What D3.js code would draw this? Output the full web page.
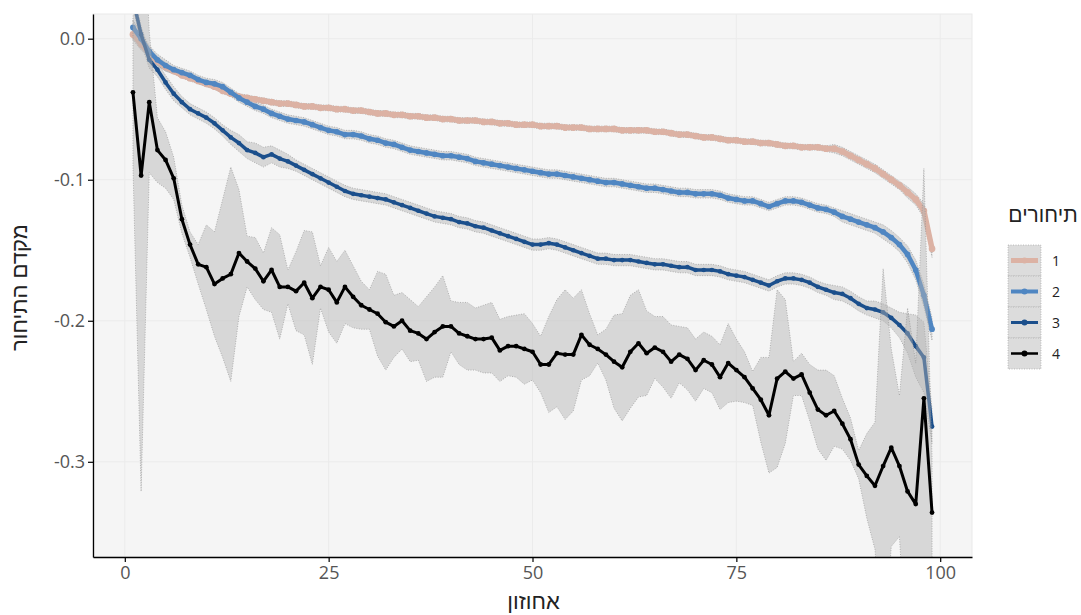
<!DOCTYPE html>
<html>
<head>
<meta charset="utf-8">
<script src="https://cdn.jsdelivr.net/npm/d3@7"></script>
<style>
  body { margin: 0; background: #fff; }
  svg { display: block; }
</style>
</head>
<body>
<div id="chart"></div>
<script>
// percentiles 1..99
var pct = d3.range(1, 100);

var groups = ["1", "2", "3", "4"];
var colors = ["#dcb2a4", "#4f86c2", "#1b4f8c", "#000000"];

var s1 = [0.003,-0.004,-0.010,-0.016,-0.020,-0.023,-0.026,-0.028,-0.030,-0.032,
  -0.034,-0.037,-0.039,-0.041,-0.042,-0.043,-0.044,-0.045,-0.046,-0.046,
  -0.047,-0.048,-0.048,-0.049,-0.049,-0.050,-0.050,-0.051,-0.051,-0.052,
  -0.053,-0.053,-0.054,-0.054,-0.055,-0.055,-0.056,-0.056,-0.057,-0.057,
  -0.058,-0.058,-0.058,-0.059,-0.059,-0.060,-0.060,-0.061,-0.061,-0.061,
  -0.062,-0.062,-0.062,-0.063,-0.063,-0.063,-0.064,-0.064,-0.064,-0.064,
  -0.065,-0.065,-0.065,-0.065,-0.066,-0.066,-0.067,-0.068,-0.068,-0.069,
  -0.070,-0.070,-0.071,-0.072,-0.072,-0.073,-0.073,-0.074,-0.074,-0.075,
  -0.076,-0.076,-0.077,-0.077,-0.077,-0.078,-0.078,-0.080,-0.083,-0.086,
  -0.089,-0.092,-0.096,-0.100,-0.104,-0.109,-0.114,-0.122,-0.149];

var s2 = [0.008,0.000,-0.009,-0.015,-0.019,-0.022,-0.024,-0.026,-0.029,-0.031,
  -0.032,-0.034,-0.038,-0.042,-0.045,-0.048,-0.050,-0.053,-0.055,-0.057,
  -0.058,-0.059,-0.061,-0.063,-0.065,-0.066,-0.068,-0.068,-0.069,-0.071,
  -0.072,-0.074,-0.075,-0.077,-0.079,-0.080,-0.081,-0.082,-0.083,-0.083,
  -0.084,-0.085,-0.087,-0.088,-0.089,-0.090,-0.091,-0.092,-0.093,-0.094,
  -0.095,-0.096,-0.096,-0.097,-0.098,-0.099,-0.100,-0.101,-0.102,-0.102,
  -0.103,-0.104,-0.105,-0.106,-0.106,-0.107,-0.108,-0.109,-0.109,-0.110,
  -0.110,-0.110,-0.111,-0.113,-0.114,-0.115,-0.115,-0.117,-0.119,-0.117,
  -0.115,-0.115,-0.116,-0.118,-0.120,-0.121,-0.123,-0.126,-0.128,-0.130,
  -0.132,-0.134,-0.137,-0.141,-0.146,-0.153,-0.164,-0.182,-0.206];

var s3 = [0.028,0.003,-0.015,-0.022,-0.031,-0.039,-0.045,-0.050,-0.053,-0.056,
  -0.060,-0.065,-0.070,-0.074,-0.079,-0.081,-0.084,-0.082,-0.085,-0.087,
  -0.090,-0.093,-0.096,-0.099,-0.102,-0.105,-0.108,-0.110,-0.111,-0.112,
  -0.113,-0.114,-0.116,-0.118,-0.120,-0.122,-0.124,-0.126,-0.127,-0.128,
  -0.130,-0.131,-0.133,-0.134,-0.136,-0.138,-0.140,-0.142,-0.144,-0.146,
  -0.146,-0.145,-0.146,-0.148,-0.150,-0.152,-0.154,-0.156,-0.156,-0.157,
  -0.157,-0.157,-0.158,-0.159,-0.160,-0.160,-0.161,-0.162,-0.162,-0.164,
  -0.164,-0.164,-0.165,-0.167,-0.168,-0.169,-0.171,-0.173,-0.175,-0.172,
  -0.170,-0.170,-0.171,-0.173,-0.176,-0.178,-0.180,-0.181,-0.184,-0.188,
  -0.191,-0.192,-0.194,-0.198,-0.203,-0.209,-0.218,-0.226,-0.275];

var s4 = [-0.038,-0.097,-0.045,-0.079,-0.086,-0.099,-0.128,-0.146,-0.160,-0.162,
  -0.174,-0.170,-0.167,-0.152,-0.158,-0.163,-0.172,-0.164,-0.176,-0.176,
  -0.179,-0.173,-0.184,-0.176,-0.178,-0.187,-0.176,-0.183,-0.189,-0.192,
  -0.195,-0.201,-0.204,-0.200,-0.207,-0.209,-0.213,-0.208,-0.204,-0.204,
  -0.209,-0.211,-0.213,-0.213,-0.212,-0.221,-0.218,-0.218,-0.220,-0.222,
  -0.231,-0.231,-0.223,-0.224,-0.224,-0.210,-0.217,-0.220,-0.224,-0.229,
  -0.233,-0.222,-0.216,-0.223,-0.219,-0.222,-0.229,-0.224,-0.227,-0.235,
  -0.228,-0.231,-0.240,-0.230,-0.235,-0.240,-0.248,-0.256,-0.267,-0.241,
  -0.236,-0.241,-0.238,-0.251,-0.263,-0.267,-0.264,-0.273,-0.284,-0.302,
  -0.310,-0.317,-0.303,-0.290,-0.303,-0.321,-0.330,-0.255,-0.336];

// half width of the confidence band, per percentile
var hw1 = [0.004,0.004,0.003,0.003,0.003,0.002,0.002,0.002,0.002,0.002,
  0.002,0.002,0.002,0.002,0.002,0.002,0.002,0.002,0.002,0.002,
  0.002,0.002,0.002,0.002,0.002,0.002,0.002,0.002,0.002,0.002,
  0.002,0.002,0.002,0.002,0.002,0.002,0.002,0.002,0.002,0.002,
  0.002,0.002,0.002,0.002,0.002,0.002,0.002,0.002,0.002,0.002,
  0.002,0.002,0.002,0.002,0.002,0.002,0.002,0.002,0.002,0.002,
  0.002,0.002,0.002,0.002,0.002,0.002,0.002,0.002,0.002,0.002,
  0.002,0.002,0.002,0.002,0.002,0.002,0.002,0.002,0.002,0.002,
  0.002,0.002,0.002,0.002,0.002,0.002,0.003,0.003,0.003,0.003,
  0.003,0.003,0.003,0.003,0.003,0.004,0.004,0.005,0.006];

var hw2 = [0.005,0.005,0.004,0.004,0.004,0.003,0.003,0.003,0.003,0.003,
  0.003,0.003,0.003,0.003,0.003,0.003,0.003,0.003,0.003,0.003,
  0.003,0.003,0.003,0.003,0.003,0.003,0.003,0.003,0.003,0.003,
  0.003,0.003,0.003,0.003,0.003,0.003,0.003,0.003,0.003,0.003,
  0.003,0.003,0.003,0.003,0.003,0.003,0.003,0.003,0.003,0.003,
  0.003,0.003,0.003,0.003,0.003,0.003,0.003,0.003,0.003,0.003,
  0.003,0.003,0.003,0.003,0.003,0.003,0.003,0.003,0.003,0.003,
  0.003,0.003,0.003,0.003,0.003,0.003,0.003,0.003,0.003,0.003,
  0.003,0.003,0.003,0.003,0.003,0.003,0.003,0.004,0.004,0.004,
  0.004,0.004,0.005,0.005,0.005,0.006,0.007,0.008,0.008];

var hw3 = [0.006,0.006,0.006,0.005,0.005,0.005,0.004,0.004,0.004,0.004,
  0.004,0.004,0.005,0.006,0.006,0.007,0.007,0.006,0.006,0.005,
  0.004,0.004,0.004,0.004,0.004,0.004,0.004,0.004,0.004,0.004,
  0.004,0.004,0.004,0.004,0.004,0.004,0.004,0.004,0.004,0.004,
  0.004,0.004,0.004,0.004,0.004,0.004,0.004,0.004,0.004,0.004,
  0.004,0.004,0.004,0.004,0.004,0.004,0.004,0.004,0.004,0.004,
  0.004,0.004,0.004,0.004,0.004,0.004,0.004,0.004,0.004,0.004,
  0.004,0.004,0.004,0.004,0.004,0.004,0.004,0.004,0.004,0.004,
  0.004,0.004,0.004,0.004,0.004,0.004,0.005,0.005,0.005,0.005,
  0.005,0.006,0.006,0.007,0.009,0.014,0.022,0.025,0.012];

var hw4 = [0.052,0.224,0.050,0.023,0.020,0.015,0.010,0.009,0.014,0.030,
  0.037,0.056,0.076,0.045,0.018,0.022,0.020,0.030,0.037,0.012,
  0.028,0.037,0.047,0.015,0.030,0.029,0.026,0.022,0.017,0.014,
  0.030,0.034,0.022,0.020,0.022,0.019,0.030,0.032,0.036,0.018,
  0.022,0.024,0.022,0.024,0.025,0.022,0.021,0.022,0.025,0.020,
  0.020,0.034,0.038,0.046,0.040,0.032,0.022,0.010,0.018,0.033,
  0.038,0.040,0.038,0.030,0.022,0.025,0.026,0.020,0.022,0.022,
  0.020,0.020,0.023,0.028,0.022,0.018,0.012,0.030,0.041,0.063,
  0.051,0.012,0.015,0.020,0.028,0.032,0.025,0.018,0.015,0.010,
  0.030,0.045,0.140,0.070,0.050,0.130,0.100,0.163,0.040];

var xTicks = [0, 25, 50, 75, 100];
var yTicks = [0, -0.1, -0.2, -0.3];
var yTickLabels = ["0.0", "-0.1", "-0.2", "-0.3"];

var xTitle = "אחוזון";
var yTitle = "מקדם התיחור";
var legendTitle = "תיחורים";

var values = [s1, s2, s3, s4],
    halfs = [hw1, hw2, hw3, hw4],
    widths = [5.5, 4.5, 3.5, 3];

// panel edges (window.top is read only, so no "top" here)
var w = 1081, h = 615,
    pLeft = 93, pRight = 972, pTop = 14, pBottom = 557;

var x = d3.scaleLinear().domain([-3.9, 103.9]).range([pLeft, pRight]),
    y = d3.scaleLinear().domain([-0.3675, 0.0175]).range([pBottom, pTop]);

var svg = d3.select("#chart").append("svg")
    .attr("width", w)
    .attr("height", h);

svg.append("defs").append("clipPath").attr("id", "clip")
  .append("rect")
    .attr("x", pLeft).attr("y", pTop)
    .attr("width", pRight - pLeft).attr("height", pBottom - pTop);

// panel
svg.append("rect")
    .attr("x", pLeft).attr("y", pTop)
    .attr("width", pRight - pLeft).attr("height", pBottom - pTop)
    .attr("fill", "#f5f5f5")
    .attr("stroke", "#e9e9e9")
    .attr("stroke-width", 1);

// grid
svg.append("g").selectAll("line")
    .data(yTicks).enter().append("line")
    .attr("x1", pLeft).attr("x2", pRight)
    .attr("y1", function(d) { return y(d); })
    .attr("y2", function(d) { return y(d); })
    .attr("stroke", "#ebebeb").attr("stroke-width", 1);

svg.append("g").selectAll("line")
    .data(xTicks).enter().append("line")
    .attr("y1", pTop).attr("y2", pBottom)
    .attr("x1", function(d) { return x(d); })
    .attr("x2", function(d) { return x(d); })
    .attr("stroke", "#ebebeb").attr("stroke-width", 1);

var plot = svg.append("g").attr("clip-path", "url(#clip)");

function rows(k) {
    return pct.map(function(p, i) {
        return { p: p, v: values[k][i], lo: values[k][i] - halfs[k][i], hi: values[k][i] + halfs[k][i] };
    });
}

var area = d3.area()
    .x(function(d) { return x(d.p); })
    .y0(function(d) { return y(d.lo); })
    .y1(function(d) { return y(d.hi); });

var line = d3.line()
    .x(function(d) { return x(d.p); })
    .y(function(d) { return y(d.v); });

function drawBand(k) {
    plot.append("path")
        .datum(rows(k))
        .attr("d", area)
        .attr("fill", "#b3b3b3")
        .attr("fill-opacity", 0.45)
        .attr("stroke", "#8c8c8c")
        .attr("stroke-width", 0.6)
        .attr("stroke-dasharray", "1,1.5");
}

function drawLine(k) {
    var data = rows(k);
    plot.append("path")
        .datum(data)
        .attr("d", line)
        .attr("fill", "none")
        .attr("stroke", colors[k])
        .attr("stroke-width", widths[k])
        .attr("stroke-linejoin", "round");

    plot.append("g").selectAll("circle")
        .data(data).enter().append("circle")
        .attr("cx", function(d) { return x(d.p); })
        .attr("cy", function(d) { return y(d.v); })
        .attr("r", k === 3 ? 2.4 : widths[k] / 2 + 0.6)
        .attr("fill", colors[k]);
}

// bands of the three upper groups under their lines, the last on top
drawBand(0); drawBand(1); drawBand(2);
drawLine(0); drawLine(1); drawLine(2);
drawBand(3);
drawLine(3);

// axes
var yAxis = d3.axisLeft(y)
    .tickValues(yTicks)
    .tickSize(5).tickSizeOuter(0).tickPadding(3)
    .tickFormat(function(d, i) { return yTickLabels[i]; });

var xAxis = d3.axisBottom(x)
    .tickValues(xTicks)
    .tickSize(5).tickSizeOuter(0).tickPadding(4);

var gy = svg.append("g").attr("transform", "translate(" + pLeft + ",0)").call(yAxis);
var gx = svg.append("g").attr("transform", "translate(0," + pBottom + ")").call(xAxis);

[gx, gy].forEach(function(g) {
    g.select(".domain").attr("stroke", "#000").attr("stroke-width", 1.3);
    g.selectAll(".tick line").attr("stroke", "#000").attr("stroke-width", 1.2);
    g.selectAll(".tick text")
        .attr("fill", "#555")
        .style("font-family", "'Open Sans', 'DejaVu Sans', sans-serif")
        .style("font-size", "18px");
});

// titles
svg.append("text")
    .attr("x", (pLeft + pRight) / 2 + 1)
    .attr("y", 609)
    .attr("text-anchor", "middle")
    .style("font-family", "'Liberation Sans', 'DejaVu Sans', sans-serif")
    .style("font-size", "22px")
    .attr("fill", "#222")
    .text(xTitle);

svg.append("text")
    .attr("transform", "translate(27," + ((pTop + pBottom) / 2 + 2) + ") rotate(-90)")
    .attr("text-anchor", "middle")
    .style("font-family", "'Liberation Sans', 'DejaVu Sans', sans-serif")
    .style("font-size", "22px")
    .attr("fill", "#222")
    .text(yTitle);

// legend
var lg = svg.append("g");
lg.append("text")
    .attr("x", 1043).attr("y", 222)
    .attr("text-anchor", "middle")
    .style("font-family", "'Liberation Sans', 'DejaVu Sans', sans-serif")
    .style("font-size", "21px")
    .attr("fill", "#222")
    .text(legendTitle);

var keyH = 31, keyW = 33, keyX = 1008, keyY = 245;

groups.forEach(function(g, k) {
    var ky = keyY + k * keyH;
    lg.append("rect")
        .attr("x", keyX).attr("y", ky)
        .attr("width", keyW).attr("height", keyH)
        .attr("fill", "#dcdcdc")
        .attr("stroke", "#9a9a9a")
        .attr("stroke-width", 0.6)
        .attr("stroke-dasharray", "1,1.5");
    lg.append("line")
        .attr("x1", keyX + 3).attr("x2", keyX + keyW - 3)
        .attr("y1", ky + keyH / 2).attr("y2", ky + keyH / 2)
        .attr("stroke", colors[k])
        .attr("stroke-width", widths[k] - 0.5);
    lg.append("circle")
        .attr("cx", keyX + keyW / 2).attr("cy", ky + keyH / 2)
        .attr("r", 3).attr("fill", colors[k]);
    lg.append("text")
        .attr("x", 1052).attr("y", ky + keyH / 2 + 5)
        .style("font-family", "'Open Sans', 'DejaVu Sans', sans-serif")
        .style("font-size", "14px")
        .attr("fill", "#222")
        .text(g);
});
</script>
</body>
</html>
